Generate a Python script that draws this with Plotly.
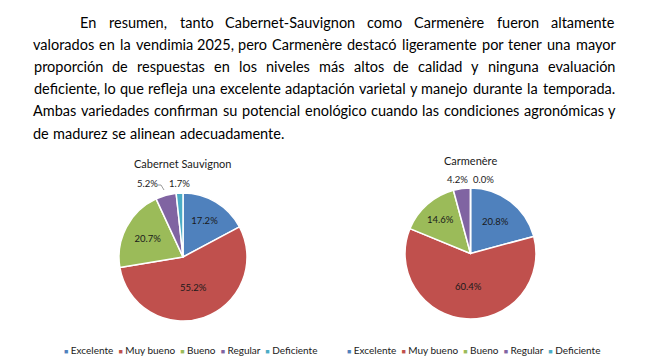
import plotly.graph_objects as go

W, H = 667, 364

# ---------------- data ----------------
categories = ["Excelente", "Muy bueno", "Bueno", "Regular", "Deficiente"]
cabernet_pct = [17.2, 55.2, 20.7, 5.2, 1.7]
carmenere_pct = [20.8, 60.4, 14.6, 4.2, 0.0]
chart_titles = ["Cabernet Sauvignon", "Carmenère"]
colors = ["#4F81BD", "#C0504D", "#9BBB59", "#8064A2", "#4BACC6"]

paragraph_lines = [
    "En resumen, tanto Cabernet-Sauvignon como Carmenère fueron altamente",
    "valorados en la vendimia 2025, pero Carmenère destacó ligeramente por tener una mayor",
    "proporción de respuestas en los niveles más altos de calidad y ninguna evaluación",
    "deficiente, lo que refleja una excelente adaptación varietal y manejo durante la temporada.",
    "Ambas variedades confirman su potencial enológico cuando las condiciones agronómicas y",
    "de madurez se alinean adecuadamente.",
]

# ---------------- helpers ----------------
def px(x):
    return x / W

def py(y):
    return 1 - y / H

# approximate Calibri advance widths (units per 2048 em) used to justify words
CW = {
    " ": 463, "a": 981, "b": 1076, "c": 866, "d": 1076, "e": 1019, "f": 625, "g": 964,
    "h": 1076, "i": 470, "j": 490, "k": 931, "l": 470, "m": 1636, "n": 1076, "o": 1080,
    "p": 1076, "q": 1076, "r": 714, "s": 801, "t": 686, "u": 1076, "v": 925, "w": 1464,
    "x": 887, "y": 927, "z": 809, "A": 1185, "C": 1092, "E": 1000, "S": 941,
    ",": 511, ".": 517, "-": 627, "0": 1038, "2": 1038, "5": 1038,
    "á": 981, "é": 1019, "è": 1019, "í": 470, "ó": 1080, "ú": 1076,
}

def word_width(w, size):
    return sum(CW.get(c, 1000) for c in w) / 2048 * size

annotations = []
shapes = []

TEXT_FONT = "Lato"
REF_SIZE = 15.6
LEFT, RIGHT, INDENT = 33, 616, 80
Y0, DY = 22, 22.2

for i, line in enumerate(paragraph_lines):
    words = line.split()
    left = INDENT if i == 0 else LEFT
    widths = [word_width(w, REF_SIZE) for w in words]
    if i == len(paragraph_lines) - 1:
        gap = CW[" "] / 2048 * REF_SIZE
    else:
        gap = (RIGHT - left - sum(widths)) / (len(words) - 1)
    x = left
    yy = Y0 + i * DY
    for w, wd in zip(words, widths):
        annotations.append(dict(
            x=px(x + wd / 2), y=py(yy), xref="paper", yref="paper",
            text=w, showarrow=False, xanchor="center", yanchor="middle",
            font=dict(family=TEXT_FONT, size=14.5, color="#000000"),
        ))
        x += wd + gap

# ---------------- pies ----------------
pie_boxes = [
    dict(cx=183, cy=257, r=64),
    dict(cx=470.5, cy=253.5, r=65.5),
]
title_pos = [(183, 164), (470, 160)]
small_label_pos = [[(147, 183), (179, 183)], [(457, 179), (483, 179)]]
legend_x = [62, 345]

fig = go.Figure()
for k, vals in enumerate([cabernet_pct, carmenere_pct]):
    b = pie_boxes[k]
    fig.add_trace(go.Pie(
        labels=categories, values=vals, sort=False, direction="clockwise", rotation=0,
        marker=dict(colors=colors, line=dict(color="white", width=1.5)),
        domain=dict(x=[px(b["cx"] - b["r"]), px(b["cx"] + b["r"])],
                    y=[py(b["cy"] + b["r"]), py(b["cy"] - b["r"])]),
        texttemplate="%{value:.1f}%",
        textposition=["inside", "inside", "inside", "none", "none"],
        insidetextorientation="horizontal",
        insidetextfont=dict(family=TEXT_FONT, size=9.5, color="#1a1a1a"),
        showlegend=False, hoverinfo="label+value", name=chart_titles[k],
    ))
    annotations.append(dict(
        x=px(title_pos[k][0]), y=py(title_pos[k][1]), xref="paper", yref="paper",
        text=chart_titles[k], showarrow=False, xanchor="center", yanchor="middle",
        font=dict(family=TEXT_FONT, size=11, color="#1a1a1a"),
    ))
    for j, idx in enumerate([3, 4]):
        sx, sy = small_label_pos[k][j]
        annotations.append(dict(
            x=px(sx), y=py(sy), xref="paper", yref="paper",
            text=f"{vals[idx]:.1f}%", showarrow=False, xanchor="center", yanchor="middle",
            font=dict(family=TEXT_FONT, size=9.5, color="#1a1a1a"),
        ))
    parts = []
    for c, col in zip(categories, colors):
        parts.append(f"<span style='color:{col};font-size:7px'>■</span>\u00a0{c}")
    annotations.append(dict(
        x=px(legend_x[k]), y=py(350), xref="paper", yref="paper",
        text="\u00a0\u00a0".join(parts), showarrow=False, xanchor="left", yanchor="middle",
        font=dict(family=TEXT_FONT, size=10, color="#1a1a1a"),
    ))

# leader line for the 5.2% label
shapes.append(dict(type="path", xref="paper", yref="paper",
                   path=f"M{px(158)},{py(185)} L{px(161)},{py(185)} L{px(164)},{py(190)}",
                   line=dict(color="#808080", width=0.8)))

fig.update_layout(
    width=W, height=H, margin=dict(l=0, r=0, t=0, b=0),
    paper_bgcolor="white", plot_bgcolor="white",
    annotations=annotations, shapes=shapes, showlegend=False,
)
fig.write_html(
    "out.html",
    config={"displayModeBar": False},
    post_script="document.body.style.margin='0';document.body.style.overflow='hidden';",
)
